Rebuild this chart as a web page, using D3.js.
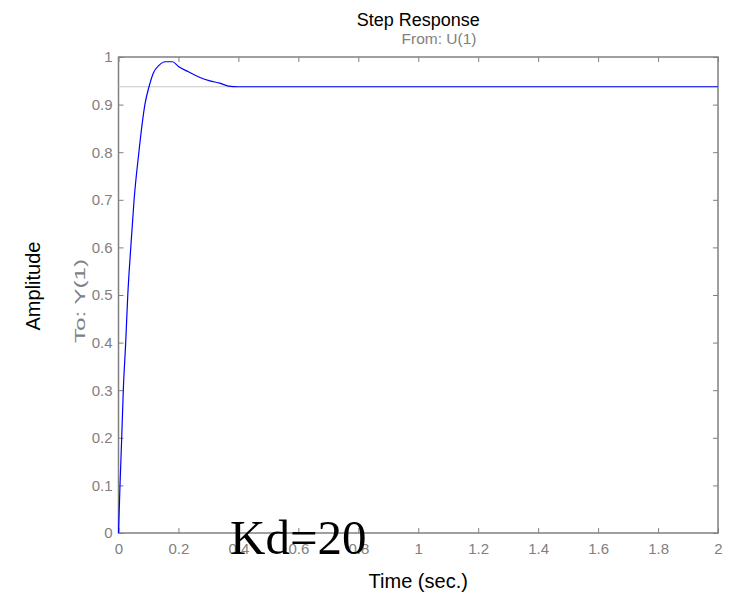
<!DOCTYPE html>
<html>
<head>
<meta charset="utf-8">
<script src="https://cdn.jsdelivr.net/npm/d3@7"></script>
<style>
  body { margin: 0; background: #fff; }
  svg { display: block; font-family: "Liberation Sans", Arial, sans-serif; }
</style>
</head>
<body>
<svg id="chart" width="734" height="594"></svg>
<script>
// step response
const time = [0, 0.005, 0.0107, 0.016, 0.024, 0.031, 0.041, 0.052, 0.068, 0.079, 0.088, 0.102,
  0.116, 0.136, 0.155, 0.18, 0.2, 0.233, 0.272, 0.305, 0.338, 0.366, 0.4, 2]
const amplitude = [0, 0.1, 0.2, 0.3, 0.4, 0.5, 0.6, 0.7, 0.8, 0.86, 0.9, 0.938,
  0.966, 0.983, 0.99, 0.99, 0.98, 0.969, 0.957, 0.95, 0.945, 0.939, 0.9375, 0.9375]
const finalValue = 0.9375

const xTicks = [0, 0.2, 0.4, 0.6, 0.8, 1, 1.2, 1.4, 1.6, 1.8, 2]
const yTicks = [0, 0.1, 0.2, 0.3, 0.4, 0.5, 0.6, 0.7, 0.8, 0.9, 1]

const svg = d3.select("#chart")
const plotL = 118.5, plotR = 718, plotT = 57, plotB = 533

const x = d3.scaleLinear().domain([0, 2]).range([plotL, plotR])
const y = d3.scaleLinear().domain([0, 1]).range([plotB, plotT])

const grey = "#808080"

// axes, ticks pointing inward like matlab
const fmt = d => d3.format("")(d)
svg.append("g")
  .attr("transform", `translate(0,${plotB})`)
  .call(d3.axisBottom(x).tickValues(xTicks).tickSize(-5).tickPadding(10).tickFormat(fmt))
svg.append("g")
  .attr("transform", `translate(0,${plotT})`)
  .call(d3.axisTop(x).tickValues(xTicks).tickSize(-5).tickFormat(""))
svg.append("g")
  .attr("transform", `translate(${plotL},0)`)
  .call(d3.axisLeft(y).tickValues(yTicks).tickSize(-5).tickPadding(6).tickFormat(fmt))
svg.append("g")
  .attr("transform", `translate(${plotR},0)`)
  .call(d3.axisRight(y).tickValues(yTicks).tickSize(-5).tickFormat(""))

svg.selectAll(".domain").remove()
svg.selectAll(".tick line").attr("stroke", grey)
svg.selectAll(".tick text").attr("fill", grey).style("font-size", "15px")

svg.append("rect")
  .attr("x", plotL).attr("y", plotT)
  .attr("width", plotR - plotL).attr("height", plotB - plotT)
  .attr("fill", "none").attr("stroke", grey).attr("stroke-width", 1.5)

// steady state line
svg.append("line")
  .attr("x1", x(0)).attr("x2", x(2))
  .attr("y1", y(finalValue)).attr("y2", y(finalValue))
  .attr("stroke", "#c8c8c8").attr("stroke-width", 1)

const line = d3.line()
  .x((d, i) => x(time[i]))
  .y(d => y(d))
  .curve(d3.curveMonotoneX)

svg.append("path")
  .datum(amplitude)
  .attr("d", line)
  .attr("fill", "none")
  .attr("stroke", "#0000ff")
  .attr("stroke-width", 1.2)

// titles
svg.append("text")
  .attr("x", (plotL + plotR) / 2).attr("y", 26)
  .attr("text-anchor", "middle").style("font-size", "18px")
  .text("Step Response")
svg.append("text")
  .attr("x", 439).attr("y", 44)
  .attr("text-anchor", "middle").style("font-size", "15.5px").attr("fill", grey)
  .text("From: U(1)")
svg.append("text")
  .attr("x", (plotL + plotR) / 2).attr("y", 588)
  .attr("text-anchor", "middle").style("font-size", "20px")
  .text("Time (sec.)")
svg.append("text")
  .attr("transform", `translate(40,${(plotT + plotB) / 2 - 9}) rotate(-90)`)
  .attr("text-anchor", "middle").style("font-size", "20px")
  .text("Amplitude")
svg.append("text")
  .attr("transform", `translate(85,${(plotT + plotB) / 2 + 6}) rotate(-90)`)
  .attr("text-anchor", "middle").style("font-size", "15.5px").attr("fill", grey)
  .attr("textLength", 84).attr("lengthAdjust", "spacingAndGlyphs")
  .text("To: Y(1)")

svg.append("text")
  .attr("x", 230).attr("y", 554)
  .style("font-family", "'Liberation Serif', 'Times New Roman', serif")
  .style("font-size", "49px")
  .text("Kd=20")
</script>
</body>
</html>
